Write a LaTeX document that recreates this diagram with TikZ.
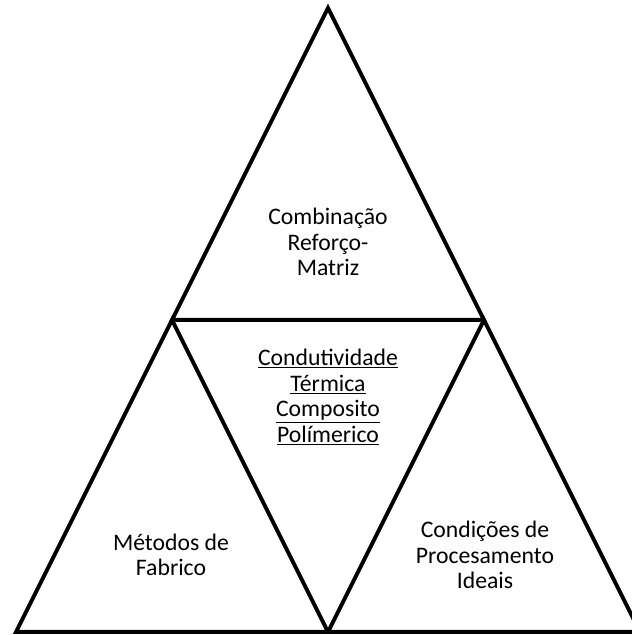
\documentclass[tikz,border=0pt]{standalone}
\usepackage{fontspec}
\setmainfont{Carlito}
\usetikzlibrary{positioning}

\begin{document}
\begin{tikzpicture}[x=1pt,y=1pt,
  tri/.style={draw=black,line width=4pt,line join=miter},
  txt/.style={font=\fontsize{23.7}{25.5}\selectfont,text=black,align=center,anchor=center}]
\useasboundingbox (0,0) rectangle (632,635);
% corners
\coordinate (top) at (328,627);
\coordinate (midL) at (172,315);
\coordinate (midR) at (484,315);
\coordinate (botL) at (16,3);
\coordinate (botM) at (328,3);
\coordinate (botR) at (640,3);

\draw[tri] (top) -- (midL) -- (midR) -- cycle;
\draw[tri] (midL) -- (botL) -- (botM) -- cycle;
\draw[tri] (midR) -- (botM) -- (botR) -- cycle;

\node[txt] (comb) at (328,393) {Combinação\\Reforço-\\Matriz};
\node[txt] (cond) at (328,238) {\underline{Condutividade}\\\underline{Térmica}\\\underline{Composito}\\\underline{Polímerico}};
\node[txt] (metod) at (171,80) {Métodos de\\Fabrico};
\node[txt] (proc) at (485,80) {Condições de\\Procesamento\\Ideais};

\end{tikzpicture}
\end{document}
